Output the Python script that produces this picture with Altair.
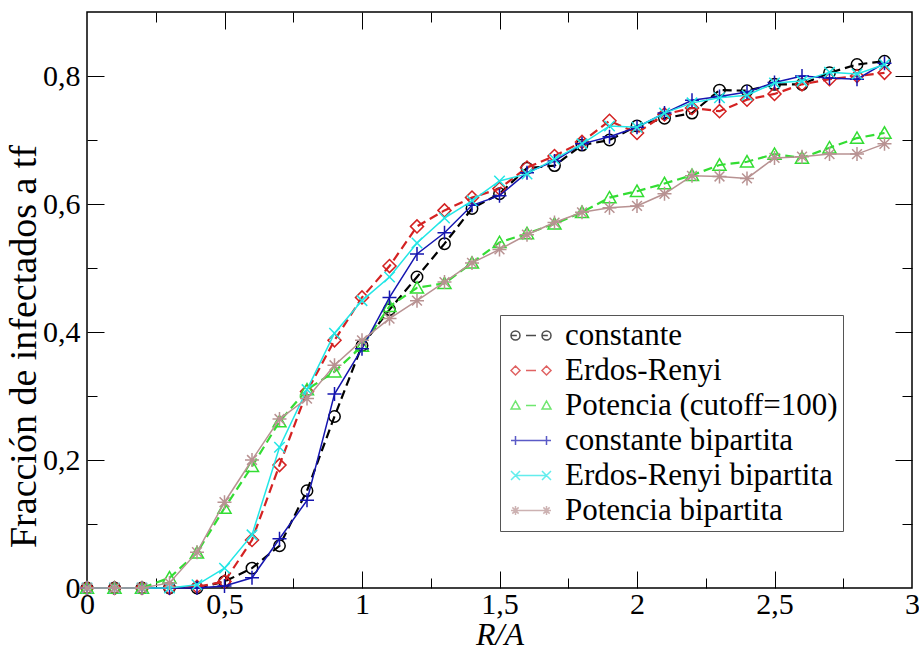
import altair as alt
import pandas as pd

# ---------------- data ----------------
x_vals = [0.0, 0.1, 0.2, 0.3, 0.4, 0.5, 0.6, 0.7, 0.8, 0.9,
          1.0, 1.1, 1.2, 1.3, 1.4, 1.5, 1.6, 1.7, 1.8, 1.9,
          2.0, 2.1, 2.2, 2.3, 2.4, 2.5, 2.6, 2.7, 2.8, 2.9]

constante = [0, 0, 0, 0, 0, 0.01, 0.031, 0.066, 0.152, 0.268,
             0.379, 0.435, 0.486, 0.538, 0.593, 0.616, 0.656, 0.66, 0.692, 0.70,
             0.722, 0.734, 0.742, 0.778, 0.777, 0.787, 0.787, 0.805, 0.818, 0.823]

erdos_renyi = [0, 0, 0, 0, 0.002, 0.01, 0.075, 0.192, 0.307, 0.387,
               0.454, 0.503, 0.565, 0.59, 0.61, 0.624, 0.657, 0.675, 0.697, 0.73,
               0.711, 0.74, 0.75, 0.745, 0.763, 0.772, 0.787, 0.795, 0.80, 0.805]

potencia = [0, 0, 0, 0.016, 0.055, 0.125, 0.19, 0.26, 0.31, 0.338,
            0.378, 0.44, 0.469, 0.476, 0.508, 0.54, 0.554, 0.569, 0.587, 0.61,
            0.62, 0.632, 0.645, 0.661, 0.666, 0.678, 0.672, 0.688, 0.703, 0.711]

constante_bip = [0, 0, 0, 0, 0, 0.003, 0.016, 0.077, 0.137, 0.303,
                 0.374, 0.454, 0.522, 0.555, 0.598, 0.613, 0.649, 0.667, 0.694, 0.705,
                 0.72, 0.742, 0.762, 0.768, 0.775, 0.79, 0.80, 0.797, 0.795, 0.82]

erdos_renyi_bip = [0, 0, 0, 0, 0.005, 0.031, 0.083, 0.22, 0.31, 0.398,
                   0.449, 0.486, 0.539, 0.578, 0.605, 0.636, 0.647, 0.67, 0.694, 0.722,
                   0.72, 0.742, 0.758, 0.766, 0.77, 0.789, 0.792, 0.806, 0.803, 0.818]

potencia_bip = [0, 0, 0, 0.008, 0.056, 0.134, 0.2, 0.264, 0.296, 0.348,
                0.387, 0.421, 0.449, 0.478, 0.508, 0.529, 0.552, 0.571, 0.587, 0.594,
                0.597, 0.616, 0.644, 0.643, 0.64, 0.672, 0.674, 0.678, 0.678, 0.694]

names = ["constante", "Erdos-Renyi", "Potencia (cutoff=100)",
         "constante bipartita", "Erdos-Renyi bipartita", "Potencia bipartita"]
values = [constante, erdos_renyi, potencia, constante_bip, erdos_renyi_bip, potencia_bip]

x_label_values = [0, 0.5, 1, 1.5, 2, 2.5, 3]
y_label_values = [0, 0.2, 0.4, 0.6, 0.8]
x_tick_values = [0.25, 0.5, 0.75, 1, 1.25, 1.5, 1.75, 2, 2.25, 2.5, 2.75]
y_tick_values = [0.1, 0.2, 0.3, 0.4, 0.5, 0.6, 0.7, 0.8]

# ---------------- styles ----------------
colors = ["#000000", "#d42222", "#33dd33", "#1515b0", "#22e6e6", "#b89292"]
dashes = [[9, 5], [9, 5], [9, 5], None, None, None]
line_widths = [2.2, 2.2, 2.2, 1.5, 1.5, 1.5]

PLUS = "M-1,0L1,0M0,-1L0,1"
XMARK = "M-1,-1L1,1M-1,1L1,-1"
STAR = "M-1,0L1,0M0,-1L0,1M-0.7,-0.7L0.7,0.7M-0.7,0.7L0.7,-0.7"
TRI = "M-1,0.8L0,-0.95L1,0.8Z"
point_shapes = ["circle", "diamond", TRI, PLUS, XMARK, STAR]
point_sizes = [130, 170, 170, 196, 110, 196]


def sym(kind, c, r):
    if kind == "circle":
        return (f"M{c - r},0A{r},{r} 0 1,0 {c + r},0A{r},{r} 0 1,0 {c - r},0"
                f"M{c - r},0L{c + r * 0.3},0")
    if kind == "diamond":
        return f"M{c - r},0L{c},{-r}L{c + r},0L{c},{r}Z"
    if kind == "tri":
        return f"M{c - r},{r * 0.8}L{c},{-r}L{c + r},{r * 0.8}Z"
    if kind == "plus":
        return f"M{c - r},0L{c + r},0M{c},{-r}L{c},{r}"
    if kind == "x":
        return f"M{c - r},{-r}L{c + r},{r}M{c - r},{r}L{c + r},{-r}"
    s = 0.7 * r
    return (f"M{c - r},0L{c + r},0M{c},{-r}L{c},{r}"
            f"M{c - s},{-s}L{c + s},{s}M{c - s},{s}L{c + s},{-s}")


def legend_symbol(kind, dashed):
    a, b, r = -0.5, 2.6, 0.45
    mid = "M0.55,0L1.55,0" if dashed else f"M{a},0L{b},0"
    return sym(kind, a, r) + sym(kind, b, r) + mid


kinds = ["circle", "diamond", "tri", "plus", "x", "star"]
legend_paths = [legend_symbol(k, d is not None) for k, d in zip(kinds, dashes)]

FONT = "Liberation Serif"
W, H = 825, 576

xs = alt.Scale(domain=[0, 3], nice=False, zero=False)
ys = alt.Scale(domain=[0, 0.9], nice=False, zero=False)

rows = []
for n, vals in zip(names, values):
    for xv, yv in zip(x_vals, vals):
        rows.append({"series": n, "x": xv, "y": yv})
df = pd.DataFrame(rows)

label_expr = "replace(format(datum.value, '~g'), '.', ',')"

x_main_axis = alt.Axis(orient="bottom", values=x_label_values, labelExpr=label_expr,
                       ticks=False, domain=False, grid=False, labelFont=FONT,
                       labelFontSize=30, labelColor="black", labelPadding=1,
                       labelFlush=False, labelOverlap=False,
                       title="R/A", titleFont=FONT, titleFontSize=32,
                       titleFontStyle="italic", titleFontWeight="normal",
                       titleColor="black", titlePadding=0)
y_main_axis = alt.Axis(orient="left", values=y_label_values, labelExpr=label_expr,
                       ticks=False, domain=False, grid=False, labelFont=FONT,
                       labelFontSize=30, labelColor="black", labelPadding=7,
                       labelFlush=False, labelOverlap=False,
                       title="Fracción de infectados a tf", titleFont=FONT,
                       titleFontSize=38, titleFontWeight="normal", titleColor="black",
                       titleX=-52, titleY=334, titleBaseline="alphabetic")

x_cond = {"condition": {"test": "abs(datum.value*2 - round(datum.value*2)) < 0.001", "value": 17}, "value": 10}
y_cond = {"condition": {"test": "abs(datum.value*5 - round(datum.value*5)) < 0.001", "value": 17}, "value": 10}


def tick_axis(orient, offset, vals, cond):
    return alt.Axis(orient=orient, offset=offset, values=vals, labels=False, domain=False,
                    grid=False, ticks=True, tickSize=cond, tickColor="black", tickWidth=1,
                    title=None)


layers = []
empty = alt.Chart(df).transform_filter("datum.x < 0")
layers.append(empty.mark_point(opacity=0).encode(
    x=alt.X("x:Q", scale=xs, axis=tick_axis("top", -H, x_tick_values, x_cond)),
    y=alt.Y("y:Q", scale=ys, axis=tick_axis("right", -W, y_tick_values, y_cond))))
layers.append(empty.mark_point(opacity=0).encode(
    x=alt.X("x:Q", scale=xs, axis=tick_axis("bottom", -H, x_tick_values, x_cond)),
    y=alt.Y("y:Q", scale=ys, axis=tick_axis("left", -W, y_tick_values, y_cond))))

layers.append(empty.mark_point(opacity=0).encode(
    x=alt.X("x:Q", scale=xs, axis=x_main_axis),
    y=alt.Y("y:Q", scale=ys, axis=y_main_axis)))

for i, n in enumerate(names):
    base = alt.Chart(df).transform_filter(alt.datum.series == n)
    lk = dict(color=colors[i], strokeWidth=line_widths[i], clip=False)
    if dashes[i] is not None:
        lk["strokeDash"] = dashes[i]
    layers.append(base.mark_line(**lk).encode(
        x=alt.X("x:Q", scale=xs, axis=None),
        y=alt.Y("y:Q", scale=ys, axis=None)))
    layers.append(base.mark_point(shape=point_shapes[i], filled=False, size=point_sizes[i],
                                  color=colors[i], strokeWidth=1.5, opacity=1).encode(
        x=alt.X("x:Q", scale=xs, axis=None),
        y=alt.Y("y:Q", scale=ys, axis=None)))

leg = alt.Legend(orient="none", legendX=413, legendY=303, title=None,
                 labelFont=FONT, labelFontSize=31, labelColor="black", labelLimit=500,
                 symbolSize=400, symbolStrokeWidth=1.5, labelOffset=29, padding=5,
                 rowPadding=3, strokeColor="#555555", fillColor="white",
                 symbolFillColor="transparent")
layers.append(empty.mark_point(filled=False, strokeWidth=1.5).encode(
    x=alt.X("x:Q", scale=xs, axis=None),
    y=alt.Y("y:Q", scale=ys, axis=None),
    color=alt.Color("series:N", scale=alt.Scale(domain=names, range=colors), legend=leg, sort=names),
    shape=alt.Shape("series:N", scale=alt.Scale(domain=names, range=legend_paths), legend=leg, sort=names)))

chart = alt.layer(*layers).resolve_axis(x="independent", y="independent").properties(
    width=W, height=H,
    autosize=alt.AutoSizeParams(type="none"),
    padding={"left": 87, "top": 12, "right": 7, "bottom": 67},
    background="white",
).configure_view(stroke="black", strokeWidth=1.5)

chart.save("out.html", embed_options={"renderer": "svg", "actions": False})
